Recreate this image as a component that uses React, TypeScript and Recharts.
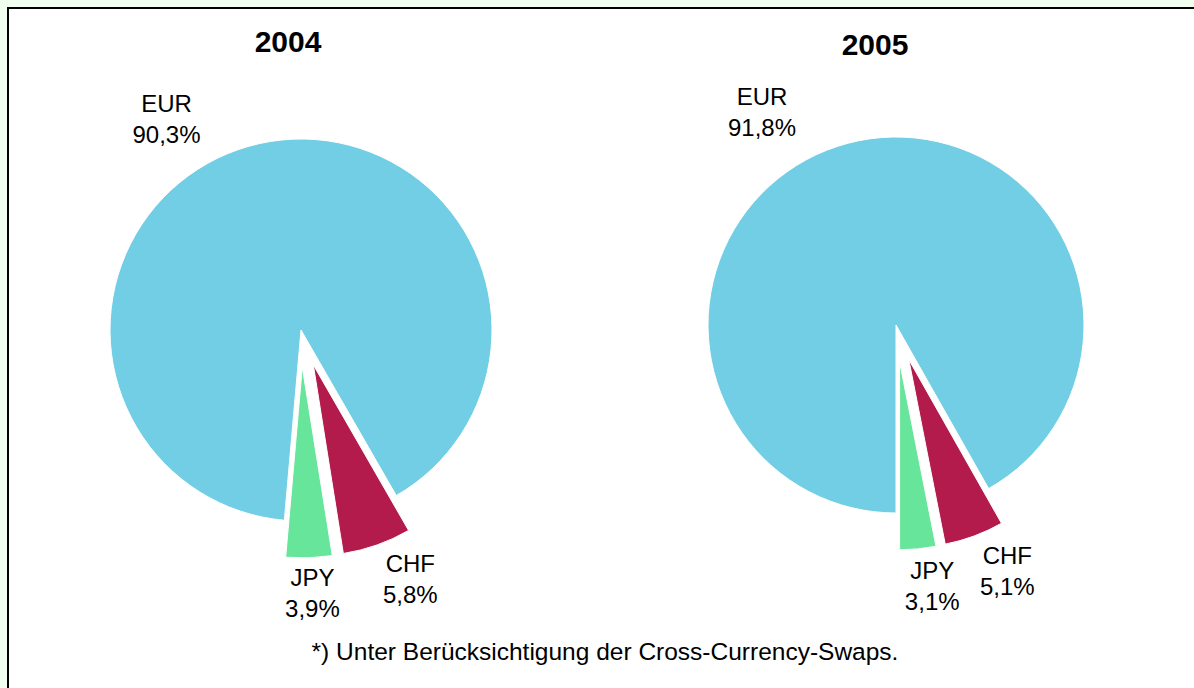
import React from "react";
import { PieChart, Pie, Cell, Sector } from "recharts";

// order is clockwise from the bottom of each pie
const currencies = ["EUR", "CHF", "JPY"];
const shares2004 = [90.3, 5.8, 3.9];
const shares2005 = [91.8, 5.1, 3.1];
const years = ["2004", "2005"];
const footnote = "*) Unter Berücksichtigung der Cross-Currency-Swaps.";

const colors: Record<string, string> = { EUR: "#72cee5", CHF: "#b31b4c", JPY: "#67e69b" };
const explodeBy: Record<string, number> = { EUR: 0, CHF: 37, JPY: 37 };
const FONT = "'Liberation Sans', Arial, sans-serif";
const RAD = Math.PI / 180;

const data2004 = currencies.map((name, i) => ({ name, value: shares2004[i] }));
const data2005 = currencies.map((name, i) => ({ name, value: shares2005[i] }));

const fmt = (v: number) => v.toFixed(1).replace(".", ",") + "%";

const renderSlice = (props: any) => {
  const off = explodeBy[props.name] ?? 0;
  const dx = off * Math.cos(-props.midAngle * RAD);
  const dy = off * Math.sin(-props.midAngle * RAD);
  return <Sector {...props} cx={props.cx + dx} cy={props.cy + dy} />;
};

// label nudges from the default outside point, per year
const nudge2004: Record<string, [number, number]> = { EUR: [-89, -12], CHF: [39, 43], JPY: [4, 45] };
const nudge2005: Record<string, [number, number]> = { EUR: [-81, -19], CHF: [39, 44], JPY: [16, 47] };

const makeLabel = (nudge: Record<string, [number, number]>) => (p: any) => {
  const r = p.outerRadius + 20;
  const x = p.cx + r * Math.cos(-p.midAngle * RAD) + nudge[p.name][0];
  const y = p.cy + r * Math.sin(-p.midAngle * RAD) + nudge[p.name][1];
  return (
    <text x={x} y={y} textAnchor="middle" fontSize={24} fontFamily={FONT} fill="#000">
      <tspan x={x} dy={0}>{p.name}</tspan>
      <tspan x={x} dy={31}>{fmt(p.value)}</tspan>
    </text>
  );
};

export default function App() {
  return (
    <div style={{ position: "absolute", left: 0, top: 0, width: 1194, height: 688, background: "#f0fff0", overflow: "hidden" }}>
      <div style={{ position: "absolute", left: 7, top: 7, width: 1300, height: 800, border: "2px solid #000", background: "#fff" }} />
      <div style={{ position: "absolute", left: 0, top: 0 }}>
        <PieChart width={1194} height={688} margin={{ top: 0, right: 0, bottom: 0, left: 0 }}>
          <Pie
            data={data2004}
            dataKey="value"
            nameKey="name"
            cx={301}
            cy={330}
            outerRadius={191}
            startAngle={-95}
            endAngle={-455}
            stroke="#fff"
            strokeWidth={1}
            shape={renderSlice}
            label={makeLabel(nudge2004)}
            labelLine={false}
            isAnimationActive={false}
          >
            {data2004.map((d) => (
              <Cell key={d.name} fill={colors[d.name]} />
            ))}
          </Pie>
          <Pie
            data={data2005}
            dataKey="value"
            nameKey="name"
            cx={896}
            cy={325}
            outerRadius={188}
            startAngle={-90}
            endAngle={-450}
            stroke="#fff"
            strokeWidth={1}
            shape={renderSlice}
            label={makeLabel(nudge2005)}
            labelLine={false}
            isAnimationActive={false}
          >
            {data2005.map((d) => (
              <Cell key={d.name} fill={colors[d.name]} />
            ))}
          </Pie>
        </PieChart>
      </div>
      <svg width={1194} height={688} style={{ position: "absolute", left: 0, top: 0, pointerEvents: "none" }}>
        <text x={288} y={52} textAnchor="middle" fontSize={30} fontWeight="bold" fontFamily={FONT}>{years[0]}</text>
        <text x={875} y={55} textAnchor="middle" fontSize={30} fontWeight="bold" fontFamily={FONT}>{years[1]}</text>
        <text x={605} y={660} textAnchor="middle" fontSize={24.5} fontFamily={FONT}>{footnote}</text>
      </svg>
    </div>
  );
}
